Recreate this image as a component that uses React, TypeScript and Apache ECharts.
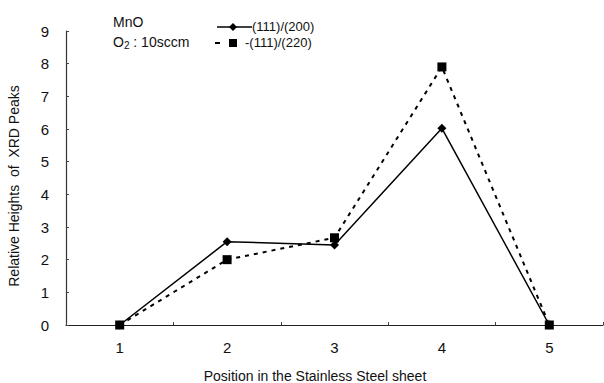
import React, { useEffect, useRef } from "react";
import * as echarts from "echarts";

const categories = ["1", "2", "3", "4", "5"];
const series200 = [0, 2.55, 2.45, 6.02, 0];
const series220 = [0, 2.0, 2.67, 7.9, 0];
const seriesNames = ["(111)/(200)", "(111)/(220)"];
const yTicks = [0, 9, 1];

const FONT = "Liberation Sans, Arial, sans-serif";

export default function App() {
  const ref = useRef<HTMLDivElement>(null);
  useEffect(() => {
    if (!ref.current) return;
    const chart = echarts.init(ref.current, undefined, { renderer: "svg" });
    chart.setOption({
      animation: false,
      backgroundColor: "#ffffff",
      grid: { left: 66, right: 1, top: 31, bottom: 58, containLabel: false },
      xAxis: {
        type: "category",
        data: categories,
        boundaryGap: true,
        axisLine: { lineStyle: { color: "#222", width: 1.2 } },
        axisTick: { show: true, inside: true, length: 3, lineStyle: { color: "#444" } },
        axisLabel: { color: "#111", fontSize: 15, fontFamily: FONT, margin: 15 },
        splitLine: { show: false },
      },
      yAxis: {
        type: "value",
        min: yTicks[0],
        max: yTicks[1],
        interval: yTicks[2],
        axisLine: { show: true, lineStyle: { color: "#333", width: 1.2 } },
        axisTick: { show: true, inside: true, length: 3, lineStyle: { color: "#444" } },
        axisLabel: { color: "#111", fontSize: 15, fontFamily: FONT, margin: 17 },
        splitLine: { show: false },
      },
      series: [
        {
          name: seriesNames[0],
          type: "line",
          data: series200,
          symbol: "diamond",
          symbolSize: 9,
          itemStyle: { color: "#000" },
          lineStyle: { color: "#000", width: 1.5, type: "solid" },
          z: 3,
        },
        {
          name: seriesNames[1],
          type: "line",
          data: series220,
          symbol: "rect",
          symbolSize: 9,
          itemStyle: { color: "#000" },
          lineStyle: { color: "#000", width: 2, type: [4, 5] },
          z: 2,
        },
      ],
      graphic: [
        {
          type: "text",
          x: 113,
          y: 15,
          style: { text: "MnO", font: `14px ${FONT}`, fill: "#111" },
        },
        {
          type: "text",
          x: 113,
          y: 34,
          style: {
            text: "{a|O}{s|2}{a| : 10sccm}",
            fill: "#111",
            rich: {
              a: { fontSize: 14, fontFamily: FONT, fill: "#111" },
              s: { fontSize: 10, fontFamily: FONT, fill: "#111", padding: [6, 0, 0, 0] },
            },
          },
        },
        {
          type: "line",
          shape: { x1: 217, y1: 27, x2: 252, y2: 27 },
          style: { stroke: "#000", lineWidth: 1.5 },
        },
        {
          type: "polygon",
          shape: { points: [[233, 23], [237, 27], [233, 31], [229, 27]] },
          style: { fill: "#000" },
        },
        {
          type: "text",
          x: 252,
          y: 20,
          style: { text: "(111)/(200)", font: `13px ${FONT}`, fill: "#111" },
        },
        {
          type: "line",
          shape: { x1: 215, y1: 43, x2: 220, y2: 43 },
          style: { stroke: "#000", lineWidth: 2 },
        },
        {
          type: "rect",
          shape: { x: 229, y: 39, width: 8, height: 8 },
          style: { fill: "#000" },
        },
        {
          type: "text",
          x: 245,
          y: 36,
          style: { text: "-(111)/(220)", font: `13px ${FONT}`, fill: "#111" },
        },
        {
          type: "text",
          x: 14,
          y: 186,
          rotation: Math.PI / 2,
          style: {
            text: "Relative Heights  of  XRD Peaks",
            font: `14px ${FONT}`,
            fill: "#111",
            align: "center",
            verticalAlign: "middle",
          },
        },
        {
          type: "text",
          x: 315,
          y: 376,
          style: {
            text: "Position in the Stainless Steel sheet",
            font: `14px ${FONT}`,
            fill: "#111",
            align: "center",
            verticalAlign: "middle",
          },
        },
      ],
    });
    return () => chart.dispose();
  }, []);
  return <div ref={ref} style={{ width: 604, height: 383, position: "absolute", left: 0, top: 0 }} />;
}
